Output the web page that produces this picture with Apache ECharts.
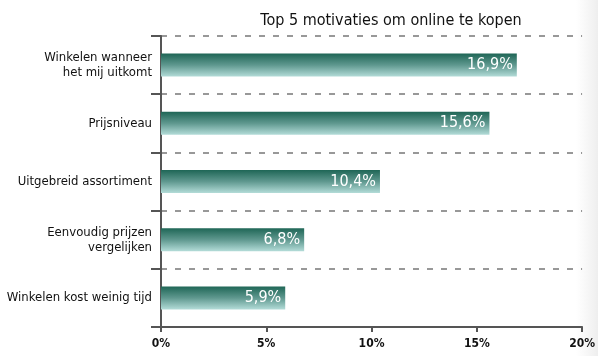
<!DOCTYPE html>
<html>
<head>
<meta charset="utf-8">
<script src="https://cdn.jsdelivr.net/npm/echarts@6/dist/echarts.min.js"></script>
<style>
  html, body { margin: 0; padding: 0; background: #ffffff; }
  #chart { width: 598px; height: 356px; }
</style>
</head>
<body>
<div id="chart"></div>
<script>
// Top 5 reasons for shopping online (share of respondents, %)
const categories = [
  'Winkelen wanneer\nhet mij uitkomt',
  'Prijsniveau',
  'Uitgebreid assortiment',
  'Eenvoudig prijzen\nvergelijken',
  'Winkelen kost weinig tijd'
];
const values = [16.9, 15.6, 10.4, 6.8, 5.9];
const titleText = 'Top 5 motivaties om online te kopen';
const xMin = 0, xMax = 20, xStep = 5;

const FONT = "'Liberation Sans Narrow', 'DejaVu Sans Condensed', 'Arial Narrow', sans-serif";

const chart = echarts.init(document.getElementById('chart'), null, { renderer: 'canvas' });

chart.setOption({
  animation: false,
  backgroundColor: '#ffffff',
  textStyle: { fontFamily: FONT },
  graphic: [{
    type: 'rect',
    z: -10,
    shape: { x: 576, y: 0, width: 22, height: 356 },
    style: {
      fill: new echarts.graphic.LinearGradient(0, 0, 1, 0, [
        { offset: 0, color: 'rgba(240,240,240,0)' },
        { offset: 1, color: 'rgba(238,238,238,1)' }
      ])
    }
  }],
  title: {
    text: titleText,
    left: 386,
    textAlign: 'center',
    top: 8,
    textStyle: { fontFamily: FONT, fontSize: 16, fontWeight: 'normal', color: '#111' }
  },
  grid: { left: 161, right: 15, top: 36, bottom: 29, containLabel: false },
  xAxis: {
    type: 'value',
    min: xMin, max: xMax, interval: xStep,
    axisLine: { show: true, lineStyle: { color: '#555', width: 2 } },
    axisTick: { show: true, length: 5, lineStyle: { color: '#555', width: 2 } },
    splitLine: { show: false },
    axisLabel: {
      formatter: v => v + '%',
      fontFamily: FONT, fontSize: 12, fontWeight: 'bold', color: '#111', margin: 11
    }
  },
  yAxis: {
    type: 'category',
    data: categories,
    inverse: true,
    boundaryGap: true,
    axisLine: { show: true, lineStyle: { color: '#555', width: 2 } },
    axisTick: { show: true, inside: false, length: 10, lineStyle: { color: '#555', width: 2 } },
    splitLine: {
      show: true,
      lineStyle: { color: '#777', width: 1.5, type: [6, 8] }
    },
    axisLabel: {
      fontFamily: FONT, fontSize: 13, color: '#111', margin: 9, lineHeight: 15, align: 'right'
    }
  },
  series: [{
    type: 'bar',
    data: values,
    barWidth: 23,
    itemStyle: {
      color: new echarts.graphic.LinearGradient(0, 0, 0, 1, [
        { offset: 0, color: '#1f6656' },
        { offset: 0.5, color: '#5f988f' },
        { offset: 1, color: '#b3dcd8' }
      ])
    },
    label: {
      show: true,
      position: 'insideRight',
      distance: 4,
      formatter: p => p.value.toFixed(1).replace('.', ',') + '%',
      fontFamily: FONT, fontSize: 16, color: '#ffffff'
    }
  }]
});
</script>
</body>
</html>
